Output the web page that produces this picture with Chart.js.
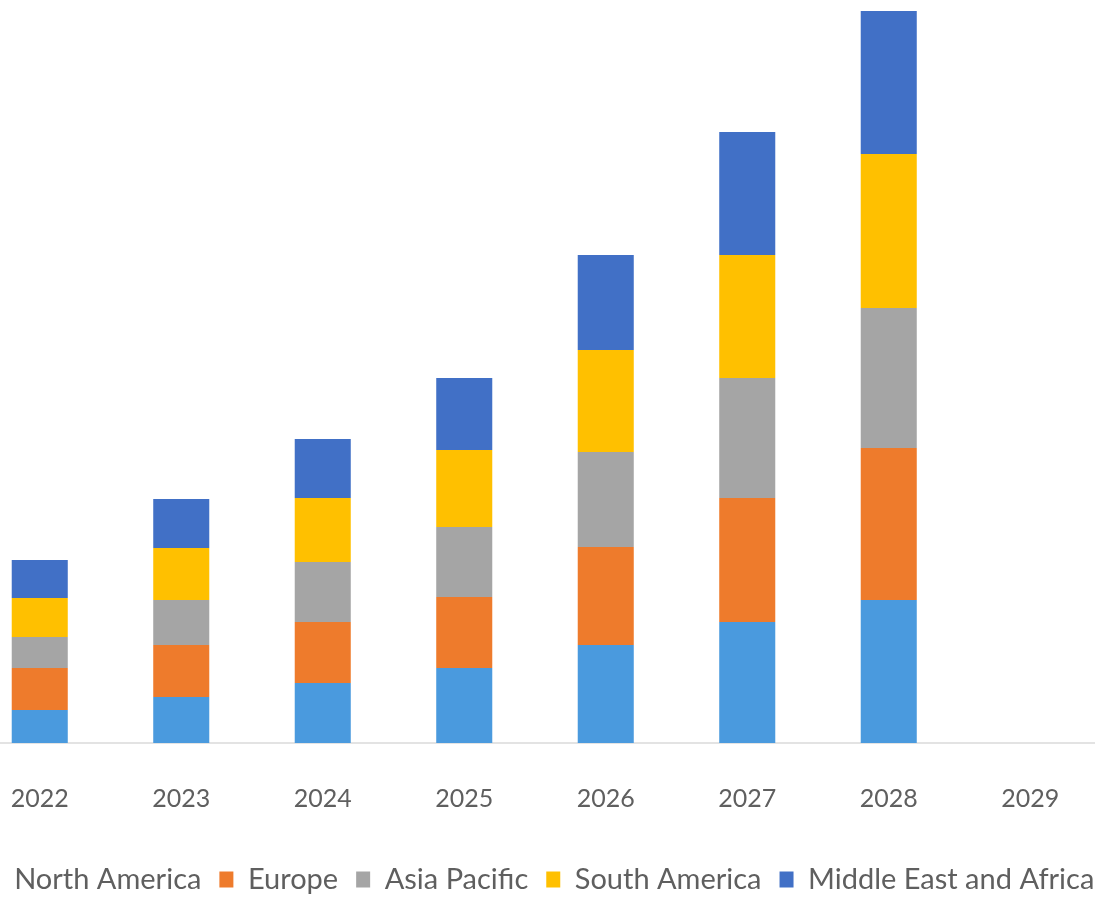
<!DOCTYPE html>
<html>
<head>
<meta charset="utf-8">
<script src="https://cdn.jsdelivr.net/npm/chart.js@4.4.1/dist/chart.umd.min.js"></script>
<style>
  html, body { margin: 0; padding: 0; background: #fff; overflow: hidden; }
  body { width: 1095px; height: 903px; position: relative; }
  /* the picture is a crop of a wider chart, so the canvas spills over the window */
  .for_chart { position: absolute; left: -60px; top: 0; width: 1200px; height: 904px; }
</style>
</head>
<body>
<div class="for_chart"><canvas id="chart"></canvas></div>
<script>
const years = ["2022", "2023", "2024", "2025", "2026", "2027", "2028", "2029"];

const northAmerica = [3.3, 4.6, 6.0, 7.5, 9.8, 12.1, 14.3, null];
const europe       = [4.2, 5.2, 6.1, 7.1, 9.8, 12.4, 15.2, null];
const asiaPacific  = [3.1, 4.5, 6.0, 7.0, 9.5, 12.0, 14.0, null];
const southAmerica = [3.9, 5.2, 6.4, 7.7, 10.2, 12.3, 15.4, null];
const middleEast   = [3.8, 4.9, 5.9, 7.2, 9.5, 12.3, 14.3, null];

const fontFamily = "Lato, 'Liberation Sans', sans-serif";

const makeSet = (label, data, color) => ({
  label: label,
  data: data,
  backgroundColor: color,
  borderWidth: 0,
  categoryPercentage: 0.8,
  barPercentage: 0.495,
});

// empty side axes only reserve room so the plot area lands where the crop has it,
// while the legend keeps the full canvas width
const spacer = (position, width) => ({
  position: position,
  display: true,
  grid: { display: false },
  border: { display: false },
  ticks: { display: false },
  afterFit: (scale) => { scale.width = width; },
});

const ctx = document.getElementById("chart").getContext("2d");
new Chart(ctx, {
  type: "bar",
  data: {
    labels: years,
    datasets: [
      makeSet("North America", northAmerica, "#4a9ade"),
      makeSet("Europe", europe, "#ee7b2c"),
      makeSet("Asia Pacific", asiaPacific, "#a5a5a5"),
      makeSet("South America", southAmerica, "#ffc000"),
      makeSet("Middle East and Africa", middleEast, "#4170c6"),
    ],
  },
  options: {
    responsive: true,
    maintainAspectRatio: false,
    animation: false,
    layout: { padding: 0 },
    plugins: {
      legend: {
        position: "bottom",
        labels: {
          color: "#5f5f5f",
          font: { family: fontFamily, size: 29 },
          boxWidth: 14,
          boxHeight: 16,
          padding: 18,
        },
      },
      tooltip: { enabled: false },
    },
    scales: {
      x: {
        stacked: true,
        grid: { display: false },
        border: { display: true, color: "#e3e3e3", width: 2 },
        ticks: {
          color: "#5f5f5f",
          font: { family: fontFamily, size: 25 },
          padding: 33,
        },
      },
      y: {
        stacked: true,
        min: 0,
        max: 74.3,
        ...spacer("left", 29),
      },
      yRight: spacer("right", 39),
    },
  },
});
</script>
</body>
</html>
